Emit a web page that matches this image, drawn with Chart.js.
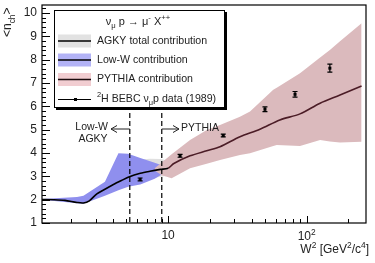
<!DOCTYPE html>
<html>
<head>
<meta charset="utf-8">
<script src="https://cdn.jsdelivr.net/npm/chart.js@4.4.1/dist/chart.umd.min.js"></script>
<style>
  html, body { margin: 0; padding: 0; background: #fff; }
</style>
</head>
<body>
<canvas id="myChart" width="375" height="263"></canvas>
<script>
"use strict";

// AGKY total contribution (line)
const lineW2 = [1.23, 1.5, 1.8, 2.2, 2.45, 2.7, 3.06, 3.5, 4.03, 4.6, 5.2, 6.3, 7.4, 8.8, 10.0, 11.0, 14.4, 19, 23.7, 33, 46, 64, 89.5, 125, 174, 249];
const lineN  = [2.01, 2.0, 1.97, 1.88, 1.86, 1.95, 2.25, 2.45, 2.65, 2.82, 2.97, 3.13, 3.22, 3.3, 3.35, 3.55, 3.88, 4.1, 4.27, 4.7, 5.02, 5.42, 5.68, 6.14, 6.49, 6.88];

// AGKY total band (only visible in the transition region)
const greyW2 = [5.2, 6.3, 7.4, 8.8, 10.6, 12];
const greyHi = [3.5, 3.72, 3.76, 3.75, 3.65, 3.7];
const greyLo = [2.7, 2.8, 2.9, 2.98, 3.05, 3.2];

// Low-W band
const lowW2 = [1.23, 2.2, 2.45, 3.5, 4.38, 5.15, 6.3, 8.0, 10.4];
const lowHi = [2.03, 2.12, 2.17, 2.77, 3.99, 3.97, 3.79, 3.58, 3.35];
const lowLo = [2.0, 1.85, 1.83, 2.17, 2.4, 2.55, 2.65, 2.9, 3.3];

// PYTHIA band
const pyW2 = [8.0, 9.0, 10.6, 14.4, 19, 23.7, 33, 39, 57.4, 60.8, 89.5, 125, 147, 174, 249];
const pyHi = [3.35, 3.6, 3.95, 4.56, 4.99, 5.2, 5.56, 5.78, 6.71, 6.8, 7.42, 8.1, 8.42, 8.8, 9.57];
const pyLo = [3.25, 3.05, 2.92, 3.35, 3.54, 3.7, 3.92, 3.99, 4.3, 4.35, 4.3, 4.56, 4.5, 4.45, 4.49];

// 2H BEBC data (1989)
const bebcW2  = [6.28, 12.2, 25, 50, 82.4, 147];
const bebcN   = [2.87, 3.88, 4.75, 5.88, 6.52, 7.64];
const bebcErr = [0.06, 0.06, 0.06, 0.1, 0.12, 0.17];

// ticks and markers
const yMajor = [1, 2, 3, 4, 5, 6, 7, 8, 9, 10];
const xMajor = [10, 100];
const xMinor = [2, 3, 4, 5, 6, 7, 8, 9, 20, 30, 40, 50, 60, 70, 80, 90, 200];
const cutW2 = [5.29, 9.0];

const FONT = '"Liberation Sans", Arial, sans-serif';

const pts = (xs, ys) => xs.map((x, i) => ({ x: x, y: ys[i] }));

function rich(ctx, parts, x, y, size, align) {
  const fs = k => (k ? size * 0.7 : size);
  let w = 0;
  for (const [t, k] of parts) {
    ctx.font = fs(k) + "px " + FONT;
    w += ctx.measureText(t).width;
  }
  let cx = align === "center" ? x - w / 2 : align === "right" ? x - w : x;
  ctx.textAlign = "left";
  ctx.textBaseline = "middle";
  for (const [t, k] of parts) {
    ctx.font = fs(k) + "px " + FONT;
    ctx.fillText(t, cx, y - k * size * 0.38);
    cx += ctx.measureText(t).width;
  }
}

function arrow(ctx, x0, x1, y) {
  const d = x1 > x0 ? 1 : -1;
  ctx.beginPath();
  ctx.moveTo(x0, y);
  ctx.lineTo(x1, y);
  ctx.moveTo(x1 - d * 6, y - 3.5);
  ctx.lineTo(x1, y);
  ctx.lineTo(x1 - d * 6, y + 3.5);
  ctx.stroke();
}

const decor = {
  id: "decor",
  afterDatasetsDraw(chart) {
    const { ctx, chartArea: a, scales: { x, y } } = chart;
    ctx.save();

    // error bars + markers
    ctx.strokeStyle = "#000";
    ctx.fillStyle = "#000";
    ctx.lineWidth = 1.2;
    bebcW2.forEach((w, i) => {
      const px = x.getPixelForValue(w);
      const yt = y.getPixelForValue(bebcN[i] + bebcErr[i]);
      const yb = y.getPixelForValue(bebcN[i] - bebcErr[i]);
      const yc = y.getPixelForValue(bebcN[i]);
      ctx.beginPath();
      ctx.moveTo(px, yt); ctx.lineTo(px, yb);
      ctx.moveTo(px - 2.5, yt); ctx.lineTo(px + 2.5, yt);
      ctx.moveTo(px - 2.5, yb); ctx.lineTo(px + 2.5, yb);
      ctx.stroke();
      ctx.fillRect(px - 1.5, yc - 1.5, 3, 3);
    });

    // transition cuts
    ctx.setLineDash([5, 3]);
    ctx.lineWidth = 1.2;
    cutW2.forEach(w => {
      const px = x.getPixelForValue(w);
      ctx.beginPath();
      ctx.moveTo(px, y.getPixelForValue(5.72));
      ctx.lineTo(px, a.bottom);
      ctx.stroke();
    });
    ctx.setLineDash([]);

    // annotations
    ctx.fillStyle = "#222";
    ctx.strokeStyle = "#222";
    ctx.lineWidth = 1;
    rich(ctx, [["Low-W", 0]], 108, 127, 10.5, "right");
    rich(ctx, [["AGKY", 0]], 93, 139.5, 10.5, "center");
    rich(ctx, [["PYTHIA", 0]], 181, 128, 10.5, "left");
    arrow(ctx, x.getPixelForValue(cutW2[0]), 111, 129);
    arrow(ctx, x.getPixelForValue(cutW2[1]), 179, 129);

    // frame
    ctx.strokeStyle = "#000";
    ctx.lineWidth = 1.2;
    ctx.strokeRect(a.left, a.top, a.right - a.left, a.bottom - a.top);

    // ticks (inward)
    ctx.lineWidth = 1;
    ctx.beginPath();
    for (let v = 1; v <= 10.3; v += 0.2) {
      const py = Math.round(y.getPixelForValue(v)) + 0.5;
      const major = Math.abs(v - Math.round(v)) < 0.01;
      ctx.moveTo(a.left, py);
      ctx.lineTo(a.left + (major ? 8 : 4), py);
    }
    xMajor.forEach(v => {
      const px = Math.round(x.getPixelForValue(v)) + 0.5;
      ctx.moveTo(px, a.bottom); ctx.lineTo(px, a.bottom - 7);
    });
    xMinor.forEach(v => {
      const px = Math.round(x.getPixelForValue(v)) + 0.5;
      ctx.moveTo(px, a.bottom); ctx.lineTo(px, a.bottom - 4);
    });
    ctx.stroke();

    // tick labels
    ctx.fillStyle = "#222";
    yMajor.forEach(v => rich(ctx, [[String(v), 0]], 37, y.getPixelForValue(v), 12, "right"));
    rich(ctx, [["10", 0]], x.getPixelForValue(10), 236, 12, "center");
    rich(ctx, [["10", 0], ["2", 1]], x.getPixelForValue(100), 237, 12, "center");

    // axis titles
    rich(ctx, [["W", 0], ["2", 1], [" [GeV", 0], ["2", 1], ["/c", 0], ["4", 1], ["]", 0]], 369, 250, 12, "right");
    ctx.save();
    ctx.translate(8, 37);
    ctx.rotate(-Math.PI / 2);
    rich(ctx, [["<n", 0], ["ch", -1], [">", 0]], 0, 0, 12, "left");
    ctx.restore();

    // legend box with shadow
    const L = 54, T = 10, R = 225, B = 108;
    ctx.fillStyle = "#000";
    ctx.fillRect(L + 2, B, R - L, 2);
    ctx.fillRect(R, T + 2, 2, B - T);
    ctx.fillStyle = "#fff";
    ctx.fillRect(L, T, R - L, B - T);
    ctx.lineWidth = 1;
    ctx.strokeStyle = "#000";
    ctx.strokeRect(L + 0.5, T + 0.5, R - L - 1, B - T - 1);

    ctx.fillStyle = "#222";
    rich(ctx, [["ν", 0], ["μ", -1], [" p → μ", 0], ["-", 1], [" X", 0], ["++", 1]], 138, 22, 11, "center");

    const entries = [
      { fill: "#e2e2e2", line: "#000", y: 41, parts: [["AGKY total contribution", 0]] },
      { fill: "#b3b3f6", line: "#000", y: 60, parts: [["Low-W contribution", 0]] },
      { fill: "#f1cdd1", line: "#1a0a0c", y: 79.5, parts: [["PYTHIA contribution", 0]] }
    ];
    entries.forEach(e => {
      ctx.fillStyle = e.fill;
      ctx.fillRect(58, e.y - 6.5, 33, 13);
      ctx.strokeStyle = e.line;
      ctx.lineWidth = 1.5;
      ctx.beginPath();
      ctx.moveTo(58, e.y); ctx.lineTo(91, e.y);
      ctx.stroke();
      ctx.fillStyle = "#222";
      rich(ctx, e.parts, 97, e.y, 10.6, "left");
    });
    ctx.strokeStyle = "#000";
    ctx.lineWidth = 1;
    ctx.beginPath();
    ctx.moveTo(58, 99.5); ctx.lineTo(91, 99.5);
    ctx.stroke();
    ctx.fillStyle = "#000";
    ctx.fillRect(74, 98, 3, 3);
    ctx.fillStyle = "#222";
    rich(ctx, [["2", 1], ["H BEBC ν", 0], ["μ", -1], ["p data (1989)", 0]], 97, 99, 10.6, "left");

    ctx.restore();
  }
};

const band = (xs, ys, color, order, fill) => ({
  data: pts(xs, ys),
  borderWidth: 0,
  pointRadius: 0,
  backgroundColor: color,
  fill: fill,
  order: order,
  tension: 0
});

new Chart(document.getElementById("myChart"), {
  type: "line",
  data: {
    datasets: [
      band(greyW2, greyHi, "#e0e0e0", 6, "+1"),
      band(greyW2, greyLo, "#e0e0e0", 6, false),
      band(lowW2, lowHi, "#8f8fee", 5, "+1"),
      band(lowW2, lowLo, "#8f8fee", 5, false),
      band(pyW2, pyHi, "#dbbabd", 4, "+1"),
      band(pyW2, pyLo, "#dbbabd", 4, false),
      {
        data: pts(lineW2, lineN),
        borderColor: "#000",
        borderWidth: 1.6,
        pointRadius: 0,
        fill: false,
        tension: 0.3,
        order: 2,
        segment: {
          borderColor: c => (c.p0.parsed.x >= 10 ? "#4b1c26" : "#000")
        }
      }
    ]
  },
  options: {
    responsive: false,
    animation: false,
    devicePixelRatio: 1,
    layout: { padding: { left: 42, right: 9, top: 5, bottom: 40 } },
    plugins: { legend: { display: false }, tooltip: { enabled: false } },
    scales: {
      x: { type: "logarithmic", min: 1.23, max: 268, display: false },
      y: { type: "linear", min: 1, max: 10.35, display: false }
    }
  },
  plugins: [decor]
});
</script>
</body>
</html>
